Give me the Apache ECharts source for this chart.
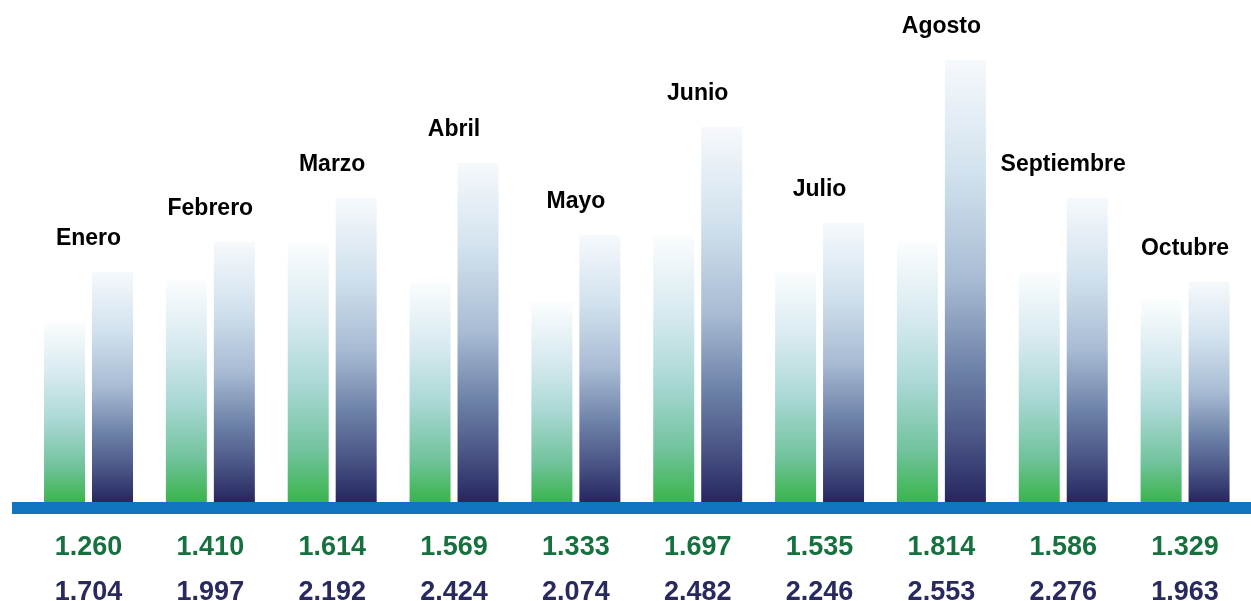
<!DOCTYPE html>
<html>
<head>
<meta charset="utf-8">
<script src="https://cdn.jsdelivr.net/npm/echarts@6/dist/echarts.min.js"></script>
<style>html,body{margin:0;padding:0;background:#fff;}#c{width:1251px;height:601px;}</style>
</head>
<body>
<div id="c"></div>
<script>
const months = ['Enero','Febrero','Marzo','Abril','Mayo','Junio','Julio','Agosto','Septiembre','Octubre'];
const greenValues = [1260, 1410, 1614, 1569, 1333, 1697, 1535, 1814, 1586, 1329];
const navyValues  = [1704, 1997, 2192, 2424, 2074, 2482, 2246, 2553, 2276, 1963];
// bar heights as drawn in the picture (decorative scale 0–450, not proportional to printed values)
const greenBarHeight = [180, 222, 260, 220, 200, 267, 230, 261, 230, 202];
const navyBarHeight  = [230, 260, 304, 339, 267, 375, 279, 442, 304, 220];

function fmt(v){ return String(v).replace(/\B(?=(\d{3})+(?!\d))/g, '.'); }

const chart = echarts.init(document.getElementById('c'));
const font = '"Liberation Sans", Arial, sans-serif';
chart.setOption({
  animation: false,
  grid: [
    {left: 27.6, right: 5, top: 52, bottom: 99, containLabel: false, outerBoundsMode: 'none'},
    {left: 12, right: 0, top: 52, bottom: 93, containLabel: false, outerBoundsMode: 'none'}
  ],
  xAxis: [
    {
      type: 'category', gridIndex: 0, data: months,
      axisLine: {show: false}, axisTick: {show: false},
      axisLabel: {
        margin: 23, interval: 0,
        formatter: (v, i) => '{g|' + fmt(greenValues[i]) + '}\n{n|' + fmt(navyValues[i]) + '}',
        rich: {
          g: {fontFamily: font, fontWeight: 'bold', fontSize: 27, color: '#17703f', lineHeight: 45},
          n: {fontFamily: font, fontWeight: 'bold', fontSize: 27, color: '#28295f', lineHeight: 45}
        }
      }
    },
    {
      type: 'category', gridIndex: 1, data: [''],
      axisLine: {show: true, lineStyle: {color: '#0f75bc', width: 12, cap: 'butt'}},
      axisTick: {show: false}, axisLabel: {show: false}
    }
  ],
  yAxis: [
    {type: 'value', gridIndex: 0, min: 0, max: 450, show: false},
    {type: 'value', gridIndex: 1, min: 0, max: 450, show: false}
  ],
  series: [
    {
      type: 'bar', xAxisIndex: 0, yAxisIndex: 0, data: greenBarHeight,
      barWidth: 41, barGap: '17%',
      itemStyle: {
        color: new echarts.graphic.LinearGradient(0, 0, 0, 1, [
          {offset: 0, color: '#fbfdfe'},
          {offset: 0.3, color: '#d6e9ef'},
          {offset: 0.55, color: '#a9d8d4'},
          {offset: 0.8, color: '#72c39e'},
          {offset: 1, color: '#3ab54b'}
        ])
      }
    },
    {
      type: 'bar', xAxisIndex: 0, yAxisIndex: 0, data: navyBarHeight,
      barWidth: 41,
      itemStyle: {
        color: new echarts.graphic.LinearGradient(0, 0, 0, 1, [
          {offset: 0, color: '#f6f9fc'},
          {offset: 0.25, color: '#d2e2ee'},
          {offset: 0.5, color: '#a8bbd3'},
          {offset: 0.7, color: '#6d82a8'},
          {offset: 0.85, color: '#4c5787'},
          {offset: 1, color: '#25275f'}
        ])
      },
      label: {
        show: true, position: 'top', distance: 22, offset: [-24, 0],
        formatter: p => months[p.dataIndex],
        fontFamily: font, fontWeight: 'bold', fontSize: 23, color: '#000000'
      }
    }
  ]
});
</script>
</body>
</html>
